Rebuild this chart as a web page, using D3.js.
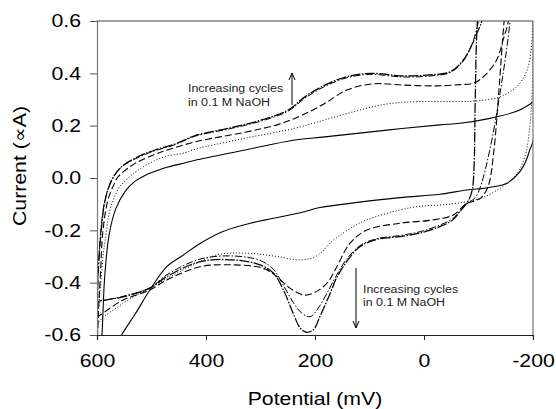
<!DOCTYPE html>
<html><head><meta charset="utf-8">
<script src="https://cdn.jsdelivr.net/npm/d3@7/dist/d3.min.js"></script>
<style>
html,body{margin:0;padding:0;background:#fff;}
text{font-family:"Liberation Sans",Arial,sans-serif;}
</style></head>
<body>
<svg id="chart" width="556" height="409"></svg>
<script>
// Potential (mV), Current values
const xTicks = [600, 400, 200, 0, -200];
const yTicks = [-0.6, -0.4, -0.2, 0.0, 0.2, 0.4, 0.6];

// cycle 1 – solid
const cycle1 = [[600,-0.85],[595,-0.68],[591,-0.6],[586,-0.38],[578,-0.22],[566,-0.12],[548,-0.05],[530,-0.012],[512,0.01],[494,0.025],[470,0.042],[438,0.058],[420,0.068],[328,0.107],[237,0.145],[182,0.157],[68,0.183],[-29,0.203],[-66,0.209],[-121,0.228],[-170,0.255],[-195,0.283],[-200,0.29],
 [-200,0.14],[-195,0.113],[-186,0.06],[-176,0.024],[-152,-0.02],[-120,-0.036],[-78,-0.046],[-29,-0.062],[44,-0.075],[136,-0.097],[191,-0.113],[227,-0.133],[319,-0.173],[370,-0.205],[411,-0.25],[442,-0.295],[472,-0.339],[503,-0.428],[530,-0.52],[555,-0.6],[580,-0.7],[600,-0.8]];

// cycle 2 – dotted
const cycle2 = [[600,-0.65],[597,-0.5],[593,-0.4],[589,-0.3],[585,-0.237],[576,-0.12],[565,-0.06],[555,-0.025],[540,0.005],[525,0.03],[481,0.078],[438,0.097],[420,0.11],[328,0.152],[237,0.19],[182,0.222],[130,0.253],[68,0.283],[7,0.292],[-66,0.292],[-100,0.295],[-140,0.311],[-170,0.349],[-188,0.406],[-197,0.496],[-200,0.62],
 [-200,0.55],[-199,0.35],[-196,0.24],[-191,0.14],[-186,0.088],[-175,0.03],[-163,-0.001],[-140,-0.039],[-103,-0.078],[-48,-0.1],[7,-0.108],[44,-0.122],[105,-0.16],[130,-0.186],[166,-0.237],[197,-0.298],[227,-0.313],[270,-0.3],[319,-0.288],[380,-0.294],[442,-0.352],[503,-0.42],[552,-0.479],[600,-0.562],[600,-0.65]];

// cycle 3 – dashed
const cycle3 = [[600,-0.65],[597,-0.5],[594,-0.38],[589,-0.2],[580,-0.084],[570,-0.03],[561,0.005],[530,0.056],[494,0.09],[481,0.1],[420,0.138],[328,0.175],[267,0.205],[224,0.24],[182,0.285],[142,0.336],[93,0.36],[38,0.355],[-23,0.352],[-66,0.357],[-90,0.362],[-109,0.387],[-133,0.45],[-145,0.527],[-155,0.6],[-168,0.8],[-175,0.95],
 [-168,0.95],[-155,0.75],[-147,0.6],[-138,0.35],[-128,0.1],[-118,-0.03],[-105,-0.075],[-90,-0.09],[-78,-0.097],[-54,-0.141],[-17,-0.16],[44,-0.173],[105,-0.199],[136,-0.25],[160,-0.339],[178,-0.402],[203,-0.44],[221,-0.447],[246,-0.421],[270,-0.377],[295,-0.345],[350,-0.332],[411,-0.339],[472,-0.39],[503,-0.428],[552,-0.466],[589,-0.517],[600,-0.535],[600,-0.65]];

// cycle 4 – dash-dot
const cycle4 = [[600,-0.65],[599,-0.47],[598,-0.37],[592,-0.18],[586,-0.09],[574,-0.012],[556,0.04],[525,0.078],[494,0.104],[457,0.127],[420,0.16],[359,0.187],[298,0.218],[249,0.256],[218,0.306],[182,0.35],[142,0.383],[99,0.396],[38,0.386],[-11,0.39],[-48,0.403],[-72,0.447],[-88,0.51],[-100,0.6],[-115,0.8],
 [-170,0.9],[-158,0.6],[-140,0.33],[-120,0.1],[-104,-0.03],[-94,-0.075],[-78,-0.1],[-66,-0.125],[-53,-0.155],[-29,-0.18],[7,-0.205],[44,-0.22],[87,-0.232],[117,-0.258],[142,-0.31],[160,-0.37],[178,-0.44],[195,-0.5],[209,-0.53],[225,-0.515],[240,-0.475],[258,-0.41],[276,-0.35],[301,-0.315],[350,-0.298],[411,-0.31],[472,-0.37],[503,-0.42],[552,-0.452],[582,-0.466],[600,-0.476],[600,-0.65]];

// cycle 5 – dense dash-dot-dot (looks solid where noisy)
const cycle5 = [[600,-0.65],[599,-0.45],[598,-0.364],[591,-0.172],[585,-0.084],[573,-0.008],[555,0.043],[525,0.081],[494,0.107],[457,0.13],[420,0.162],[359,0.19],[298,0.222],[249,0.26],[218,0.311],[182,0.355],[142,0.387],[99,0.4],[38,0.39],[-11,0.394],[-48,0.406],[-72,0.45],[-88,0.51],[-97,0.553],[-106,0.6],[-120,0.8],
 [-110,0.85],[-98,0.6],[-94,0.3],[-92,0.05],[-89,-0.04],[-84,-0.075],[-78,-0.097],[-66,-0.128],[-53,-0.16],[-29,-0.186],[7,-0.21],[44,-0.224],[87,-0.235],[117,-0.262],[142,-0.32],[160,-0.38],[172,-0.44],[191,-0.53],[203,-0.58],[215,-0.59],[227,-0.574],[240,-0.517],[258,-0.428],[276,-0.364],[301,-0.332],[350,-0.313],[411,-0.32],[472,-0.377],[503,-0.421],[552,-0.454],[582,-0.466],[600,-0.478],[600,-0.65]];

const seriesList = [
  {data: cycle1, dash: null, w: 1.1},
  {data: cycle2, dash: "1,2", w: 1},
  {data: cycle3, dash: "7,3", w: 1.1},
  {data: cycle4, dash: "7,2,1.5,2", w: 1},
  {data: cycle5, dash: "10,1.5,1.5,1.5", w: 1.25}
];

const svg = d3.select("#chart");
const x = d3.scaleLinear().domain([600, -200]).range([97, 533]);
const y = d3.scaleLinear().domain([-0.6, 0.6]).range([335, 21]);
const SX = 1.15;
const hy = s => s.replace(/\u2212/g, "-");

svg.append("defs").append("clipPath").attr("id","clip")
  .append("rect").attr("x",97).attr("y",21).attr("width",436).attr("height",314);

const line = d3.line().x(d=>x(d[0])).y(d=>y(d[1])).curve(d3.curveCatmullRom.alpha(0.5));
const g = svg.append("g").attr("clip-path","url(#clip)");
seriesList.forEach(s=>{
  g.append("path").attr("d", line(s.data)).attr("fill","none")
   .attr("stroke","#000").attr("stroke-width", s.w)
   .attr("stroke-dasharray", s.dash);
});

// frame
svg.append("line").attr("x1",97).attr("x2",533).attr("y1",21).attr("y2",21).attr("stroke","#444").attr("stroke-width",1);
svg.append("line").attr("x1",533).attr("x2",533).attr("y1",21).attr("y2",335).attr("stroke","#777").attr("stroke-width",1.2);

// axes
const yAxis = svg.append("g").attr("transform","translate(97,0)")
  .call(d3.axisLeft(y).tickValues(yTicks).tickFormat(d=>hy(d3.format(".1f")(d))).tickSize(7).tickPadding(9));
yAxis.select(".domain").attr("stroke","#777").attr("stroke-width",1.2);
yAxis.selectAll(".tick line").attr("stroke","#555");
yAxis.selectAll("text").attr("font-size","18.5px").attr("fill","#000")
  .attr("transform","scale("+SX+",1)").attr("x", function(){return -16/SX;});

const xAxis = svg.append("g").attr("transform","translate(0,335)")
  .call(d3.axisBottom(x).tickValues(xTicks).tickFormat(d=>hy(d3.format("d")(d))).tickSize(5).tickPadding(14));
xAxis.select(".domain").attr("stroke","#222").attr("stroke-width",1.2);
xAxis.selectAll(".tick line").attr("stroke","#222");
xAxis.selectAll("text").attr("font-size","18.5px").attr("fill","#000")
  .attr("transform","scale("+SX+",1)");
// keep x tick labels centred on the ticks after the horizontal stretch
xAxis.selectAll(".tick").each(function(d){
  d3.select(this).select("text").attr("x", 0);
});

// axis titles
svg.append("text").attr("transform","translate(315,405) scale("+SX+",1)")
  .attr("text-anchor","middle").attr("font-size","18.5px").text("Potential (mV)");
svg.append("text").attr("transform","translate(26,166) rotate(-90) scale(1.15,1)")
  .attr("text-anchor","middle").attr("font-size","18.5px").text("Current (∝A)");

// annotations
const ann = [
  {x:188, y:92, t:"Increasing cycles"},
  {x:188, y:106, t:"in 0.1 M NaOH"},
  {x:363, y:293, t:"Increasing cycles"},
  {x:363, y:306, t:"in 0.1 M NaOH"}
];
ann.forEach(a=>{
  svg.append("text").attr("transform","translate("+a.x+","+a.y+") scale(1.08,1)")
    .attr("font-size","11.5px").attr("fill","#222").text(a.t);
});
function arrow(x0,y0,y1){
  svg.append("line").attr("x1",x0).attr("x2",x0).attr("y1",y0).attr("y2",y1).attr("stroke","#000").attr("stroke-width",1);
  const d = y1<y0 ? 1 : -1;
  svg.append("path").attr("d","M"+(x0-3)+","+(y1+d*7)+" L"+x0+","+y1+" L"+(x0+3)+","+(y1+d*7))
    .attr("fill","none").attr("stroke","#000").attr("stroke-width",1);
}
arrow(292,105,73);
arrow(356,268,328);
</script>
</body></html>
